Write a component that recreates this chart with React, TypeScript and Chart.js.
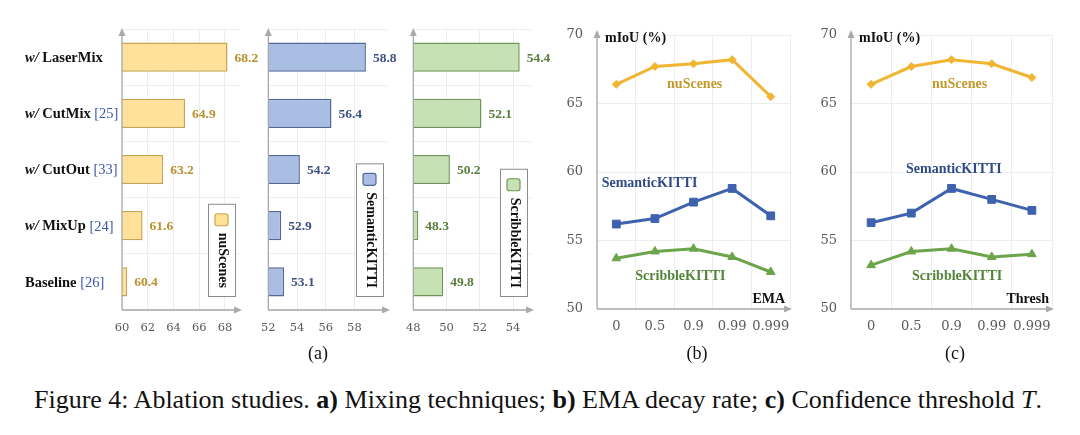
import React, { useEffect, useRef } from 'react';
import { Chart, registerables } from 'chart.js';
Chart.register(...registerables);

// ---------- data ----------
const mixCategories = ['w/ LaserMix', 'w/ CutMix [25]', 'w/ CutOut [33]', 'w/ MixUp [24]', 'Baseline [26]'];
const nuScenesMix = [68.2, 64.9, 63.2, 61.6, 60.4];
const semanticMix = [58.8, 56.4, 54.2, 52.9, 53.1];
const scribbleMix = [54.4, 52.1, 50.2, 48.3, 49.8];
const nuScenesTicks = [60, 62, 64, 66, 68];
const semanticTicks = [52, 54, 56, 58];
const scribbleTicks = [48, 50, 52, 54];

const emaCategories = ['0', '0.5', '0.9', '0.99', '0.999'];
const emaNuScenes = [66.4, 67.7, 67.9, 68.2, 65.5];
const emaSemantic = [56.2, 56.6, 57.8, 58.8, 56.8];
const emaScribble = [53.7, 54.2, 54.4, 53.8, 52.7];

const threshCategories = ['0', '0.5', '0.9', '0.99', '0.999'];
const threshNuScenes = [66.4, 67.7, 68.2, 67.9, 66.9];
const threshSemantic = [56.3, 57.0, 58.8, 58.0, 57.2];
const threshScribble = [53.2, 54.2, 54.4, 53.8, 54.0];

const mIoUTicks = [50, 55, 60, 65, 70];

// ---------- styles ----------
const SERIF = '"Liberation Serif", "Times New Roman", serif';
const TICKFONT = 'DejaVu Serif';
const AXIS = '#a9a9a9';
const GRID = '#ededed';
const C = {
  nu: { fill: '#ffe199', border: '#c9a54e', text: '#b8902c', line: '#f1b534', label: '#c29a2e' },
  sem: { fill: '#aabde3', border: '#52689b', text: '#3d5283', line: '#3f62ae', label: '#2f4a86' },
  scr: { fill: '#c6e1b4', border: '#6d9656', text: '#587d3c', line: '#6ca44b', label: '#54843a' },
};

function drawAxes(ctx: CanvasRenderingContext2D, a: any, topOff: number) {
  ctx.save();
  ctx.strokeStyle = AXIS;
  ctx.fillStyle = AXIS;
  ctx.lineWidth = 1.3;
  ctx.beginPath();
  ctx.moveTo(a.left, a.bottom);
  ctx.lineTo(a.left, a.top + topOff + 4);
  ctx.moveTo(a.left, a.bottom);
  ctx.lineTo(a.right - 4, a.bottom);
  ctx.stroke();
  ctx.beginPath();
  ctx.moveTo(a.left, a.top + topOff - 3);
  ctx.lineTo(a.left - 3.5, a.top + topOff + 5);
  ctx.lineTo(a.left + 3.5, a.top + topOff + 5);
  ctx.closePath();
  ctx.fill();
  ctx.beginPath();
  ctx.moveTo(a.right + 2, a.bottom);
  ctx.lineTo(a.right - 6, a.bottom - 3.5);
  ctx.lineTo(a.right - 6, a.bottom + 3.5);
  ctx.closePath();
  ctx.fill();
  ctx.restore();
}

type Seg = { text: string; font: string; color: string };
function parseLabel(label: string): Seg[] {
  const segs: Seg[] = [];
  let rest = label;
  if (rest.startsWith('w/')) {
    segs.push({ text: 'w/', font: `italic bold 14.5px ${SERIF}`, color: '#111' });
    rest = rest.slice(2);
  }
  const m = rest.match(/^(.*?)(\s\[\d+\])?$/) as RegExpMatchArray;
  segs.push({ text: m[1], font: `bold 14.5px ${SERIF}`, color: '#111' });
  if (m[2]) segs.push({ text: m[2], font: `14.5px ${SERIF}`, color: '#3b57a8' });
  return segs;
}

function barDecor(o: any) {
  return {
    id: 'barDecor',
    afterDatasetsDraw(chart: any) {
      const { ctx, chartArea: a } = chart;
      drawAxes(ctx, a, 2);
      const meta = chart.getDatasetMeta(0);
      ctx.save();
      // value labels
      ctx.font = `bold 13.5px ${SERIF}`;
      ctx.fillStyle = o.colors.text;
      ctx.textAlign = 'left';
      ctx.textBaseline = 'middle';
      meta.data.forEach((bar: any, i: number) => {
        ctx.fillText(o.values[i].toFixed(1), bar.x + 7, bar.y + 1);
      });
      // legend box
      ctx.font = `bold 14px ${SERIF}`;
      const tw = ctx.measureText(o.legend).width;
      const bx = a.right - 32;
      const bw = 27;
      const bb = a.bottom - 14;
      const bt = bb - (tw + 37);
      ctx.fillStyle = '#ffffff';
      ctx.fillRect(bx, bt, bw, bb - bt);
      ctx.strokeStyle = '#8c8c8c';
      ctx.lineWidth = 1;
      ctx.strokeRect(bx + 0.5, bt + 0.5, bw, bb - bt);
      const sx = bx + bw / 2 - 6.5;
      const sy = bt + 10;
      ctx.beginPath();
      (ctx as any).roundRect(sx, sy, 13, 12, 2.5);
      ctx.fillStyle = o.colors.fill;
      ctx.fill();
      ctx.strokeStyle = o.colors.border;
      ctx.lineWidth = 1.2;
      ctx.stroke();
      ctx.save();
      ctx.translate(bx + bw / 2 + 1, sy + 19);
      ctx.rotate(Math.PI / 2);
      ctx.fillStyle = '#111';
      ctx.textAlign = 'left';
      ctx.textBaseline = 'middle';
      ctx.fillText(o.legend, 0, 0);
      ctx.restore();
      // category labels (left aligned, rich text)
      if (o.showLabels) {
        const yScale = chart.scales.y;
        mixCategories.forEach((lab, i) => {
          const y = yScale.getPixelForValue(i) + 1;
          let x = o.labelX;
          parseLabel(lab).forEach((s) => {
            ctx.font = s.font;
            ctx.fillStyle = s.color;
            ctx.textAlign = 'left';
            ctx.fillText(s.text, x, y);
            x += ctx.measureText(s.text).width;
          });
        });
      }
      ctx.restore();
    },
  };
}

function barConfig(o: any): any {
  return {
    type: 'bar',
    data: {
      labels: mixCategories,
      datasets: [
        {
          label: o.legend,
          data: o.values,
          backgroundColor: o.colors.fill,
          borderColor: o.colors.border,
          borderWidth: 1.5,
          borderSkipped: 'start',
          barPercentage: 0.52,
          categoryPercentage: 1,
        },
      ],
    },
    options: {
      indexAxis: 'y',
      responsive: false,
      animation: false,
      devicePixelRatio: 1,
      layout: { padding: { left: o.padLeft, right: o.padRight, top: 29, bottom: 0 } },
      plugins: { legend: { display: false }, tooltip: { enabled: false } },
      scales: {
        x: {
          type: 'linear',
          min: o.min,
          max: o.max,
          afterBuildTicks: (s: any) => {
            s.ticks = o.ticks.map((v: number) => ({ value: v }));
          },
          afterFit: (s: any) => {
            s.height = 35;
          },
          grid: { color: GRID, drawTicks: false },
          border: { display: false },
          ticks: { font: { family: TICKFONT, size: 11.5 }, color: '#595959', padding: 11, maxRotation: 0, autoSkip: false },
        },
        y: {
          type: 'category',
          afterFit: (s: any) => {
            s.width = 0;
          },
          grid: { color: GRID, offset: true, drawTicks: false },
          border: { display: false },
          ticks: { display: false },
        },
      },
    },
    plugins: [barDecor(o)],
  };
}

function lineDecor(o: any) {
  return {
    id: 'lineDecor',
    beforeDatasetsDraw(chart: any) {
      drawAxes(chart.ctx, chart.chartArea, -2);
    },
    afterDatasetsDraw(chart: any) {
      const { ctx, chartArea: a } = chart;
      const xs = chart.scales.x;
      const ys = chart.scales.y;
      ctx.save();
      ctx.font = `bold 14px ${SERIF}`;
      ctx.textBaseline = 'middle';
      ctx.textAlign = 'center';
      o.labels.forEach((l: any) => {
        ctx.fillStyle = l.color;
        ctx.fillText(l.text, xs.getPixelForValue(l.idx), ys.getPixelForValue(l.value));
      });
      ctx.fillStyle = '#111';
      ctx.textAlign = 'left';
      ctx.fillText('mIoU (%)', a.left + 8, a.top + 3);
      ctx.textAlign = 'right';
      ctx.fillText(o.axisName, a.right - o.nameInset, a.bottom - 10);
      ctx.restore();
    },
  };
}

function lineConfig(o: any): any {
  const ds = (label: string, data: number[], color: string, style: string, r: number) => ({
    label,
    data,
    borderColor: color,
    backgroundColor: color,
    borderWidth: 3,
    pointStyle: style,
    pointRadius: r,
    pointBorderWidth: 1,
    tension: 0,
  });
  return {
    type: 'line',
    data: {
      labels: o.categories,
      datasets: [
        ds('nuScenes', o.nu, C.nu.line, 'rectRot', 4),
        ds('SemanticKITTI', o.sem, C.sem.line, 'rect', 5.5),
        ds('ScribbleKITTI', o.scr, C.scr.line, 'triangle', 5),
      ],
    },
    options: {
      responsive: false,
      animation: false,
      devicePixelRatio: 1,
      layout: { padding: { left: 0, right: o.padRight, top: 35, bottom: 0 } },
      plugins: { legend: { display: false }, tooltip: { enabled: false } },
      scales: {
        x: {
          type: 'category',
          offset: true,
          afterFit: (s: any) => {
            s.height = 36;
          },
          grid: { color: GRID, offset: true, drawTicks: false },
          border: { display: false },
          ticks: { font: { family: TICKFONT, size: 13 }, color: '#595959', padding: 10, maxRotation: 0, autoSkip: false },
        },
        y: {
          type: 'linear',
          min: 50,
          max: 70,
          afterBuildTicks: (s: any) => {
            s.ticks = mIoUTicks.map((v) => ({ value: v }));
          },
          afterFit: (s: any) => {
            s.width = o.axisLeft;
          },
          grid: { color: GRID, drawTicks: false },
          border: { display: false },
          ticks: { font: { family: TICKFONT, size: 13 }, color: '#595959', padding: 14 },
        },
      },
    },
    plugins: [lineDecor(o)],
  };
}

function ChartBox({ left, width, height, config }: { left: number; width: number; height: number; config: () => any }) {
  const ref = useRef<HTMLCanvasElement>(null);
  useEffect(() => {
    const chart = new Chart(ref.current as HTMLCanvasElement, config());
    return () => chart.destroy();
  }, []);
  return (
    <canvas
      ref={ref}
      width={width}
      height={height}
      style={{ position: 'absolute', left, top: 0, width, height }}
    />
  );
}

const capStyle: React.CSSProperties = {
  position: 'absolute',
  fontFamily: SERIF,
  color: '#111',
  whiteSpace: 'nowrap',
  transform: 'translate(-50%, -50%)',
};

export default function App() {
  return (
    <div style={{ position: 'fixed', left: 0, top: 0, width: 1080, height: 435, background: '#fff', overflow: 'hidden' }}>
      <ChartBox
        left={0}
        width={265}
        height={345}
        config={() =>
          barConfig({ values: nuScenesMix, ticks: nuScenesTicks, min: 60, max: 69.17, colors: C.nu, legend: 'nuScenes', padLeft: 122, padRight: 25, showLabels: true, labelX: 25 })
        }
      />
      <ChartBox
        left={250}
        width={150}
        height={345}
        config={() =>
          barConfig({ values: semanticMix, ticks: semanticTicks, min: 52, max: 60.34, colors: C.sem, legend: 'SemanticKITTI', padLeft: 17, padRight: 12, showLabels: false })
        }
      />
      <ChartBox
        left={395}
        width={155}
        height={345}
        config={() =>
          barConfig({ values: scribbleMix, ticks: scribbleTicks, min: 48, max: 55.14, colors: C.scr, legend: 'ScribbleKITTI', padLeft: 18, padRight: 18, showLabels: false })
        }
      />
      <ChartBox
        left={540}
        width={260}
        height={345}
        config={() =>
          lineConfig({
            categories: emaCategories,
            nu: emaNuScenes,
            sem: emaSemantic,
            scr: emaScribble,
            axisLeft: 57,
            padRight: 4,
            axisName: 'EMA',
            nameInset: 5,
            labels: [
              { text: 'nuScenes', idx: 2.03, value: 66.4, color: C.nu.label },
              { text: 'SemanticKITTI', idx: 0.86, value: 59.2, color: C.sem.label },
              { text: 'ScribbleKITTI', idx: 1.66, value: 52.4, color: C.scr.label },
            ],
          })
        }
      />
      <ChartBox
        left={800}
        width={280}
        height={345}
        config={() =>
          lineConfig({
            categories: threshCategories,
            nu: threshNuScenes,
            sem: threshSemantic,
            scr: threshScribble,
            axisLeft: 51,
            padRight: 28,
            axisName: 'Thresh',
            nameInset: 3,
            labels: [
              { text: 'nuScenes', idx: 2.2, value: 66.4, color: C.nu.label },
              { text: 'SemanticKITTI', idx: 2.06, value: 60.2, color: C.sem.label },
              { text: 'ScribbleKITTI', idx: 2.14, value: 52.35, color: C.scr.label },
            ],
          })
        }
      />
      <div style={{ ...capStyle, left: 318, top: 353, fontSize: 18 }}>(a)</div>
      <div style={{ ...capStyle, left: 697, top: 353, fontSize: 18 }}>(b)</div>
      <div style={{ ...capStyle, left: 955, top: 353, fontSize: 18 }}>(c)</div>
      <div style={{ ...capStyle, left: 538, top: 400, fontSize: 26 }}>
        Figure 4: Ablation studies. <b>a)</b> Mixing techniques; <b>b)</b> EMA decay rate; <b>c)</b> Confidence threshold <i>T</i>.
      </div>
    </div>
  );
}
